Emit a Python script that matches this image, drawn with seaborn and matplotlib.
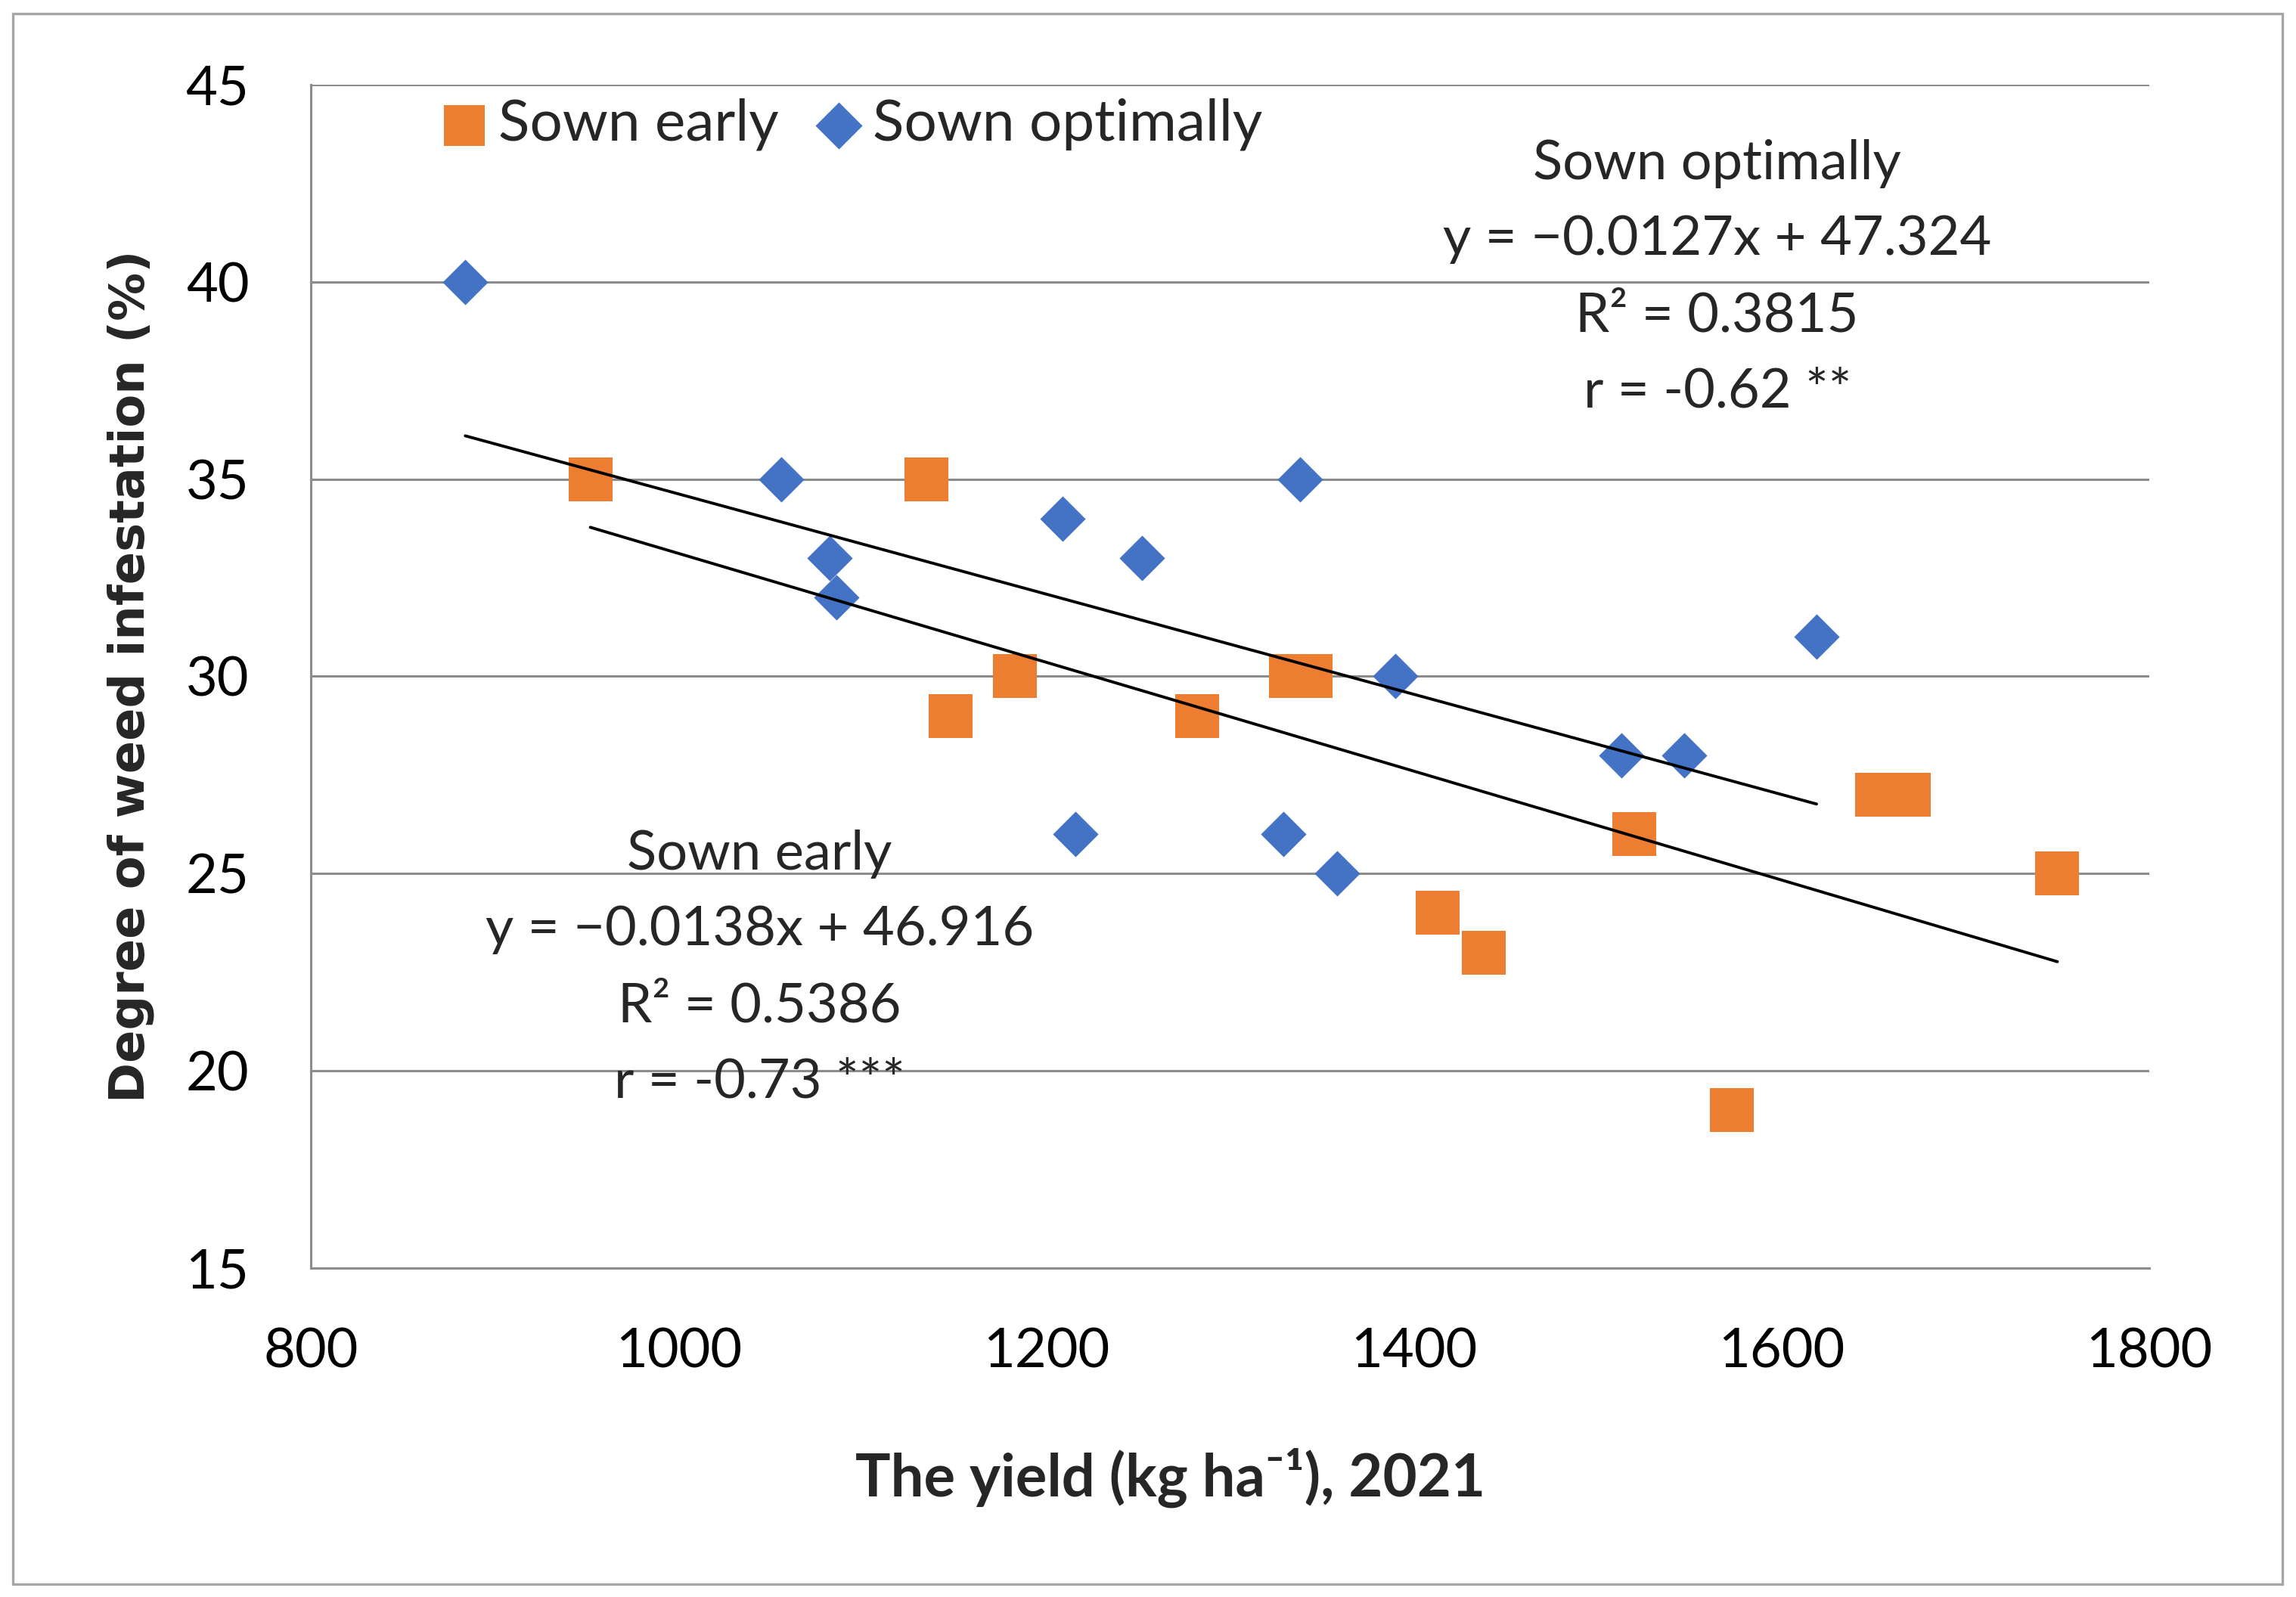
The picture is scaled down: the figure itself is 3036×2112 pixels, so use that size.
import matplotlib
matplotlib.use("Agg")
import matplotlib.pyplot as plt
from matplotlib.patches import Rectangle
import seaborn as sns
import pandas as pd

# yield (kg/ha) vs weed infestation (%), 2021
early_yield = [952, 1135, 1148, 1183, 1282, 1333, 1344, 1413, 1438, 1520, 1573, 1652, 1669, 1750]
early_weed = [35, 35, 29, 30, 29, 30, 30, 24, 23, 26, 19, 27, 27, 25]
optimal_yield = [884, 1056, 1082, 1086, 1209, 1252, 1216, 1338, 1329, 1358, 1390, 1513, 1547, 1619]
optimal_weed = [40, 35, 33, 32, 34, 33, 26, 35, 26, 25, 30, 28, 28, 31]

# trend line coefficients as printed on the chart
early_fit = (-0.0138, 46.916)
optimal_fit = (-0.0127, 47.324)
early_stats = ["Sown early", "y = \u22120.0138x + 46.916", "R\u00b2 = 0.5386", "r = -0.73 ***"]
optimal_stats = ["Sown optimally", "y = \u22120.0127x + 47.324", "R\u00b2 = 0.3815", "r = -0.62 **"]

x_ticks = [800, 1000, 1200, 1400, 1600, 1800]
y_ticks = [15, 20, 25, 30, 35, 40, 45]

ORANGE = "#ED7D31"
BLUE = "#4472C4"
GRID = "#8c8c8c"

sns.set_theme(style="white")
plt.rcParams["font.family"] = ["Lato", "DejaVu Sans"]

early = pd.DataFrame({"yield": early_yield, "weed": early_weed})
optimal = pd.DataFrame({"yield": optimal_yield, "weed": optimal_weed})

fig = plt.figure(figsize=(15.18, 10.56), dpi=200)
ax = fig.add_axes([0.1354, 0.206, 0.8007, 0.741])

sns.scatterplot(data=early, x="yield", y="weed", marker="s", s=440, color=ORANGE,
                linewidth=0, label="Sown early", ax=ax, zorder=3)
sns.scatterplot(data=optimal, x="yield", y="weed", marker="D", s=235, color=BLUE,
                linewidth=0, label="Sown optimally", ax=ax, zorder=3)

# linear trend lines over the data range
for df, (m, b) in [(early, early_fit), (optimal, optimal_fit)]:
    xs = [df["yield"].min(), df["yield"].max()]
    ys = [m * v + b for v in xs]
    sns.lineplot(x=xs, y=ys, color="black", linewidth=1.4, ax=ax, zorder=4)

ax.set_xlim(800, 1800)
ax.set_ylim(15, 45)
ax.set_xticks(x_ticks)
ax.set_yticks(y_ticks)
ax.yaxis.grid(True, color=GRID, linewidth=1.1)
ax.xaxis.grid(False)
ax.set_axisbelow(True)
for side in ["top", "right"]:
    ax.spines[side].set_visible(False)
for side in ["left", "bottom"]:
    ax.spines[side].set_color(GRID)
    ax.spines[side].set_linewidth(1.1)
ax.tick_params(axis="both", which="major", direction="out", length=9.4, width=1.1,
               color=GRID, labelsize=26, labelcolor="black")
ax.tick_params(axis="y", pad=20)
ax.tick_params(axis="x", pad=19)

ax.set_xlabel("The yield (kg ha\u207b\u00b9), 2021", fontsize=28, fontweight="bold")
ax.xaxis.set_label_coords(0.4677, -0.152)
ax.set_ylabel("Degree of weed infestation (%)", fontsize=23, fontweight="bold",
              family="DejaVu Sans")
ax.yaxis.set_label_coords(-0.085, 0.5)

# regression annotations
for i, line in enumerate(optimal_stats):
    ax.text(1565, 43.0 - i * 1.93, line, ha="center", va="center", fontsize=26)
for i, line in enumerate(early_stats):
    ax.text(1044, 25.5 - i * 1.93, line, ha="center", va="center", fontsize=26)

leg = ax.legend(loc="upper left", bbox_to_anchor=(0.049, 1.018), ncol=2, frameon=False,
                fontsize=27.5, handletextpad=0.08, columnspacing=0.55, handlelength=1.0,
                borderaxespad=0.2)
leg.legend_handles[0].set_sizes([370])
leg.legend_handles[1].set_sizes([250])

# outer chart border
fig.patches.append(Rectangle((17 / 3036, 1 - 2095 / 2112), 3001 / 3036, 2077 / 2112,
                             transform=fig.transFigure, fill=False,
                             edgecolor="#a6a6a6", linewidth=1.2))

fig.savefig("out.png", dpi=200)
